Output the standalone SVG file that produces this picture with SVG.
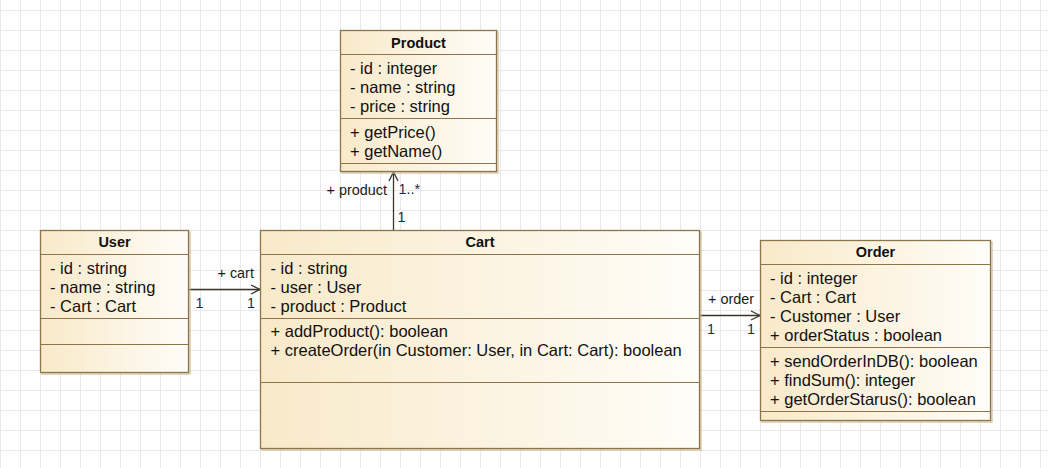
<svg xmlns="http://www.w3.org/2000/svg" width="1048" height="468" viewBox="0 0 1048 468">
  <defs>
    <pattern id="grid" x="0" y="10" width="20" height="20" patternUnits="userSpaceOnUse">
      <path d="M0.5 0 V20 M0 0.5 H20" fill="none" stroke="#e9e9e9" stroke-width="1"/>
    </pattern>
    <linearGradient id="boxFill" x1="0" y1="0" x2="1" y2="0">
      <stop offset="0" stop-color="#f8e9c9"/>
      <stop offset="1" stop-color="#fffdf8"/>
    </linearGradient>
    <style>
      .shadow { fill: none; stroke: #cdbb95; stroke-width: 1.2; }
      .box { fill: url(#boxFill); stroke: #8c7649; stroke-width: 1.3; }
      .sep { stroke: #8c7649; stroke-width: 1.2; }
      .title { font-family: "Liberation Sans", Arial, sans-serif; font-size: 14.5px; font-weight: bold; fill: #111; text-anchor: middle; }
      .member { font-family: "Liberation Sans", Arial, sans-serif; font-size: 16.5px; fill: #111; }
      .label { font-family: "Liberation Sans", Arial, sans-serif; font-size: 14.4px; fill: #1a1a1a; }
      .mult { font-family: "Liberation Sans", Arial, sans-serif; font-size: 14.4px; fill: #1a2a4a; }
      .link { fill: none; stroke: #3a342c; stroke-width: 1.3; }
    </style>
  </defs>

  <!-- background grid -->
  <rect width="1048" height="468" fill="#ffffff"/>
  <rect width="1048" height="468" fill="url(#grid)"/>

  <!-- associations -->
  <g id="connectors">
    <!-- Cart -> Product -->
    <line class="link" x1="393.5" y1="230.5" x2="393.5" y2="172"/>
    <polyline class="link" points="389,181 393.5,172 398,181"/>
    <text class="label" x="387" y="195" text-anchor="end">+ product</text>
    <text class="mult" x="398.5" y="193.5">1..*</text>
    <text class="mult" x="397.5" y="222">1</text>

    <!-- User -> Cart -->
    <line class="link" x1="188.5" y1="289.5" x2="260" y2="289.5"/>
    <polyline class="link" points="251,285 260,289.5 251,294"/>
    <text class="label" x="217.5" y="277.5">+ cart</text>
    <text class="mult" x="195.5" y="307.5">1</text>
    <text class="mult" x="247" y="307.5">1</text>

    <!-- Cart -> Order -->
    <line class="link" x1="700" y1="315.5" x2="760" y2="315.5"/>
    <polyline class="link" points="751,311 760,315.5 751,320"/>
    <text class="label" x="708" y="304">+ order</text>
    <text class="mult" x="707" y="334">1</text>
    <text class="mult" x="747" y="334">1</text>
  </g>

  <!-- Product class -->
  <g id="product">
    <rect class="shadow" x="342" y="32" width="156" height="141"/>
    <rect class="box" x="340.5" y="30.5" width="156" height="141"/>
    <line class="sep" x1="340.5" y1="54.5" x2="496.5" y2="54.5"/>
    <line class="sep" x1="340.5" y1="118.5" x2="496.5" y2="118.5"/>
    <line class="sep" x1="340.5" y1="163.5" x2="496.5" y2="163.5"/>
    <text class="title" x="418.5" y="47.5">Product</text>
    <text class="member" x="350" y="73.5">- id : integer</text>
    <text class="member" x="350" y="92.5">- name : string</text>
    <text class="member" x="350" y="111.5">- price : string</text>
    <text class="member" x="350" y="137.5">+ getPrice()</text>
    <text class="member" x="350" y="156.5">+ getName()</text>
  </g>

  <!-- User class -->
  <g id="user">
    <rect class="shadow" x="42" y="232" width="148" height="142"/>
    <rect class="box" x="40.5" y="230.5" width="148" height="142"/>
    <line class="sep" x1="40.5" y1="254.5" x2="188.5" y2="254.5"/>
    <line class="sep" x1="40.5" y1="318.5" x2="188.5" y2="318.5"/>
    <line class="sep" x1="40.5" y1="344.5" x2="188.5" y2="344.5"/>
    <text class="title" x="114.5" y="247">User</text>
    <text class="member" x="50" y="273.5">- id : string</text>
    <text class="member" x="50" y="292.5">- name : string</text>
    <text class="member" x="50" y="311.5">- Cart : Cart</text>
  </g>

  <!-- Cart class -->
  <g id="cart">
    <rect class="shadow" x="262" y="232" width="439" height="218"/>
    <rect class="box" x="260.5" y="230.5" width="439" height="218"/>
    <line class="sep" x1="260.5" y1="254.5" x2="699.5" y2="254.5"/>
    <line class="sep" x1="260.5" y1="318.5" x2="699.5" y2="318.5"/>
    <line class="sep" x1="260.5" y1="382.5" x2="699.5" y2="382.5"/>
    <text class="title" x="480" y="247">Cart</text>
    <text class="member" x="270.5" y="273.5">- id : string</text>
    <text class="member" x="270.5" y="292.5">- user : User</text>
    <text class="member" x="270.5" y="311.5">- product : Product</text>
    <text class="member" x="270.5" y="337">+ addProduct(): boolean</text>
    <text class="member" x="270.5" y="356">+ createOrder(in Customer: User, in Cart: Cart): boolean</text>
  </g>

  <!-- Order class -->
  <g id="order">
    <rect class="shadow" x="762" y="242" width="230" height="180"/>
    <rect class="box" x="760.5" y="240.5" width="230" height="180"/>
    <line class="sep" x1="760.5" y1="264.5" x2="990.5" y2="264.5"/>
    <line class="sep" x1="760.5" y1="347.5" x2="990.5" y2="347.5"/>
    <line class="sep" x1="760.5" y1="411.5" x2="990.5" y2="411.5"/>
    <text class="title" x="875.5" y="257">Order</text>
    <text class="member" x="770" y="283.5">- id : integer</text>
    <text class="member" x="770" y="302.5">- Cart : Cart</text>
    <text class="member" x="770" y="321.5">- Customer : User</text>
    <text class="member" x="770" y="340.5">+ orderStatus : boolean</text>
    <text class="member" x="770" y="366.5">+ sendOrderInDB(): boolean</text>
    <text class="member" x="770" y="385.5">+ findSum(): integer</text>
    <text class="member" x="770" y="404.5">+ getOrderStarus(): boolean</text>
  </g>
</svg>
